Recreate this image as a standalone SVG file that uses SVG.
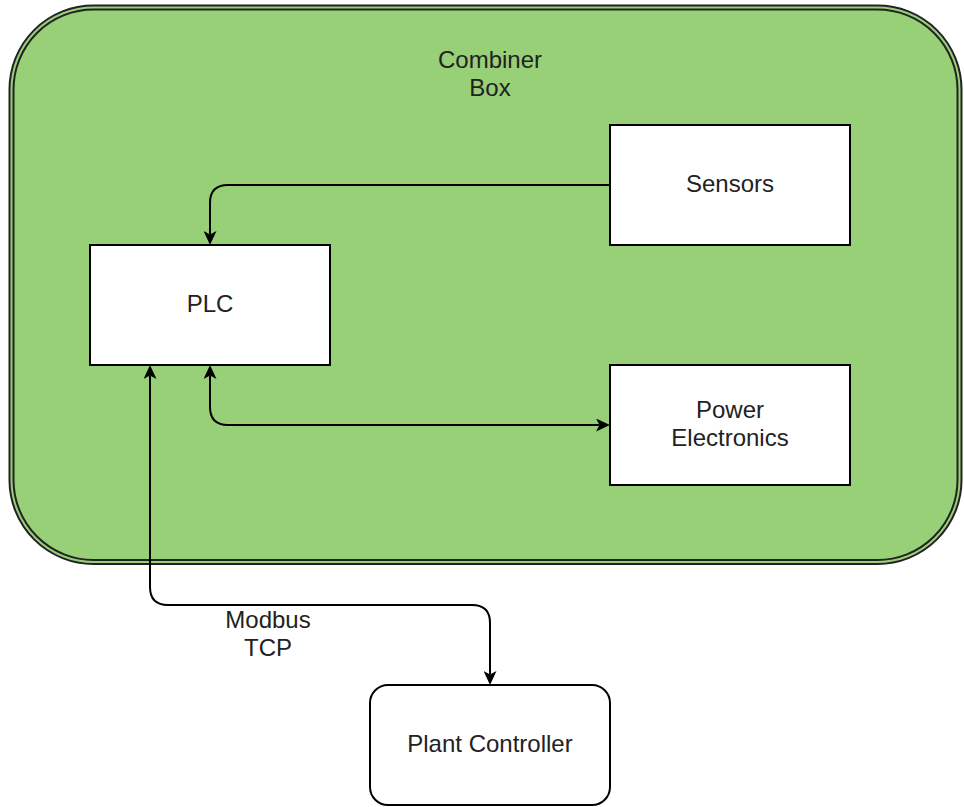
<svg xmlns="http://www.w3.org/2000/svg" width="964" height="807" viewBox="0 0 964 807">
  <style>
    text { font-family: "Liberation Sans", Arial, Helvetica, sans-serif; font-size: 24px; fill: #222222; text-anchor: middle; }
    .box { fill: #ffffff; stroke: #000000; stroke-width: 2; }
    .edge { fill: none; stroke: #000000; stroke-width: 2; }
  </style>
  <defs>
    <marker id="arrow" viewBox="0 0 14 13" refX="3.5" refY="6.5" markerWidth="14" markerHeight="13" markerUnits="userSpaceOnUse" orient="auto-start-reverse">
      <path d="M0,0 L14,6.5 L0,13 L3.5,6.5 Z" fill="#000000"/>
    </marker>
  </defs>
  <rect width="964" height="807" fill="#ffffff"/>

  <g id="combiner-box">
    <rect x="9.5" y="5.5" width="952" height="558.5" rx="84" ry="84" fill="#97d077" stroke="#222222" stroke-width="2"/>
    <rect x="13.5" y="9.5" width="944" height="550.5" rx="80" ry="80" fill="none" stroke="#222222" stroke-width="2"/>
    <text x="490" y="68">Combiner</text>
    <text x="490" y="96">Box</text>
  </g>

  <g id="sensors">
    <rect class="box" x="610" y="125" width="240" height="120"/>
    <text x="730" y="192">Sensors</text>
  </g>

  <g id="plc">
    <rect class="box" x="90" y="245" width="240" height="120"/>
    <text x="210" y="312">PLC</text>
  </g>

  <g id="power-electronics">
    <rect class="box" x="610" y="365" width="240" height="120"/>
    <text x="730" y="418">Power</text>
    <text x="730" y="446">Electronics</text>
  </g>

  <g id="plant-controller">
    <rect class="box" x="370" y="685" width="240" height="120" rx="18" ry="18"/>
    <text x="490" y="752">Plant Controller</text>
  </g>

  <g id="connectors">
    <path class="edge" d="M610,185 H228 Q210,185 210,203 V234.5" marker-end="url(#arrow)"/>
    <path class="edge" d="M210,375.5 V407 Q210,425 228,425 H599.5" marker-start="url(#arrow)" marker-end="url(#arrow)"/>
    <path class="edge" d="M150,375.5 V587 Q150,605 168,605 H472 Q490,605 490,623 V674.5" marker-start="url(#arrow)" marker-end="url(#arrow)"/>
    <text x="268" y="628">Modbus</text>
    <text x="268" y="656">TCP</text>
  </g>
</svg>
